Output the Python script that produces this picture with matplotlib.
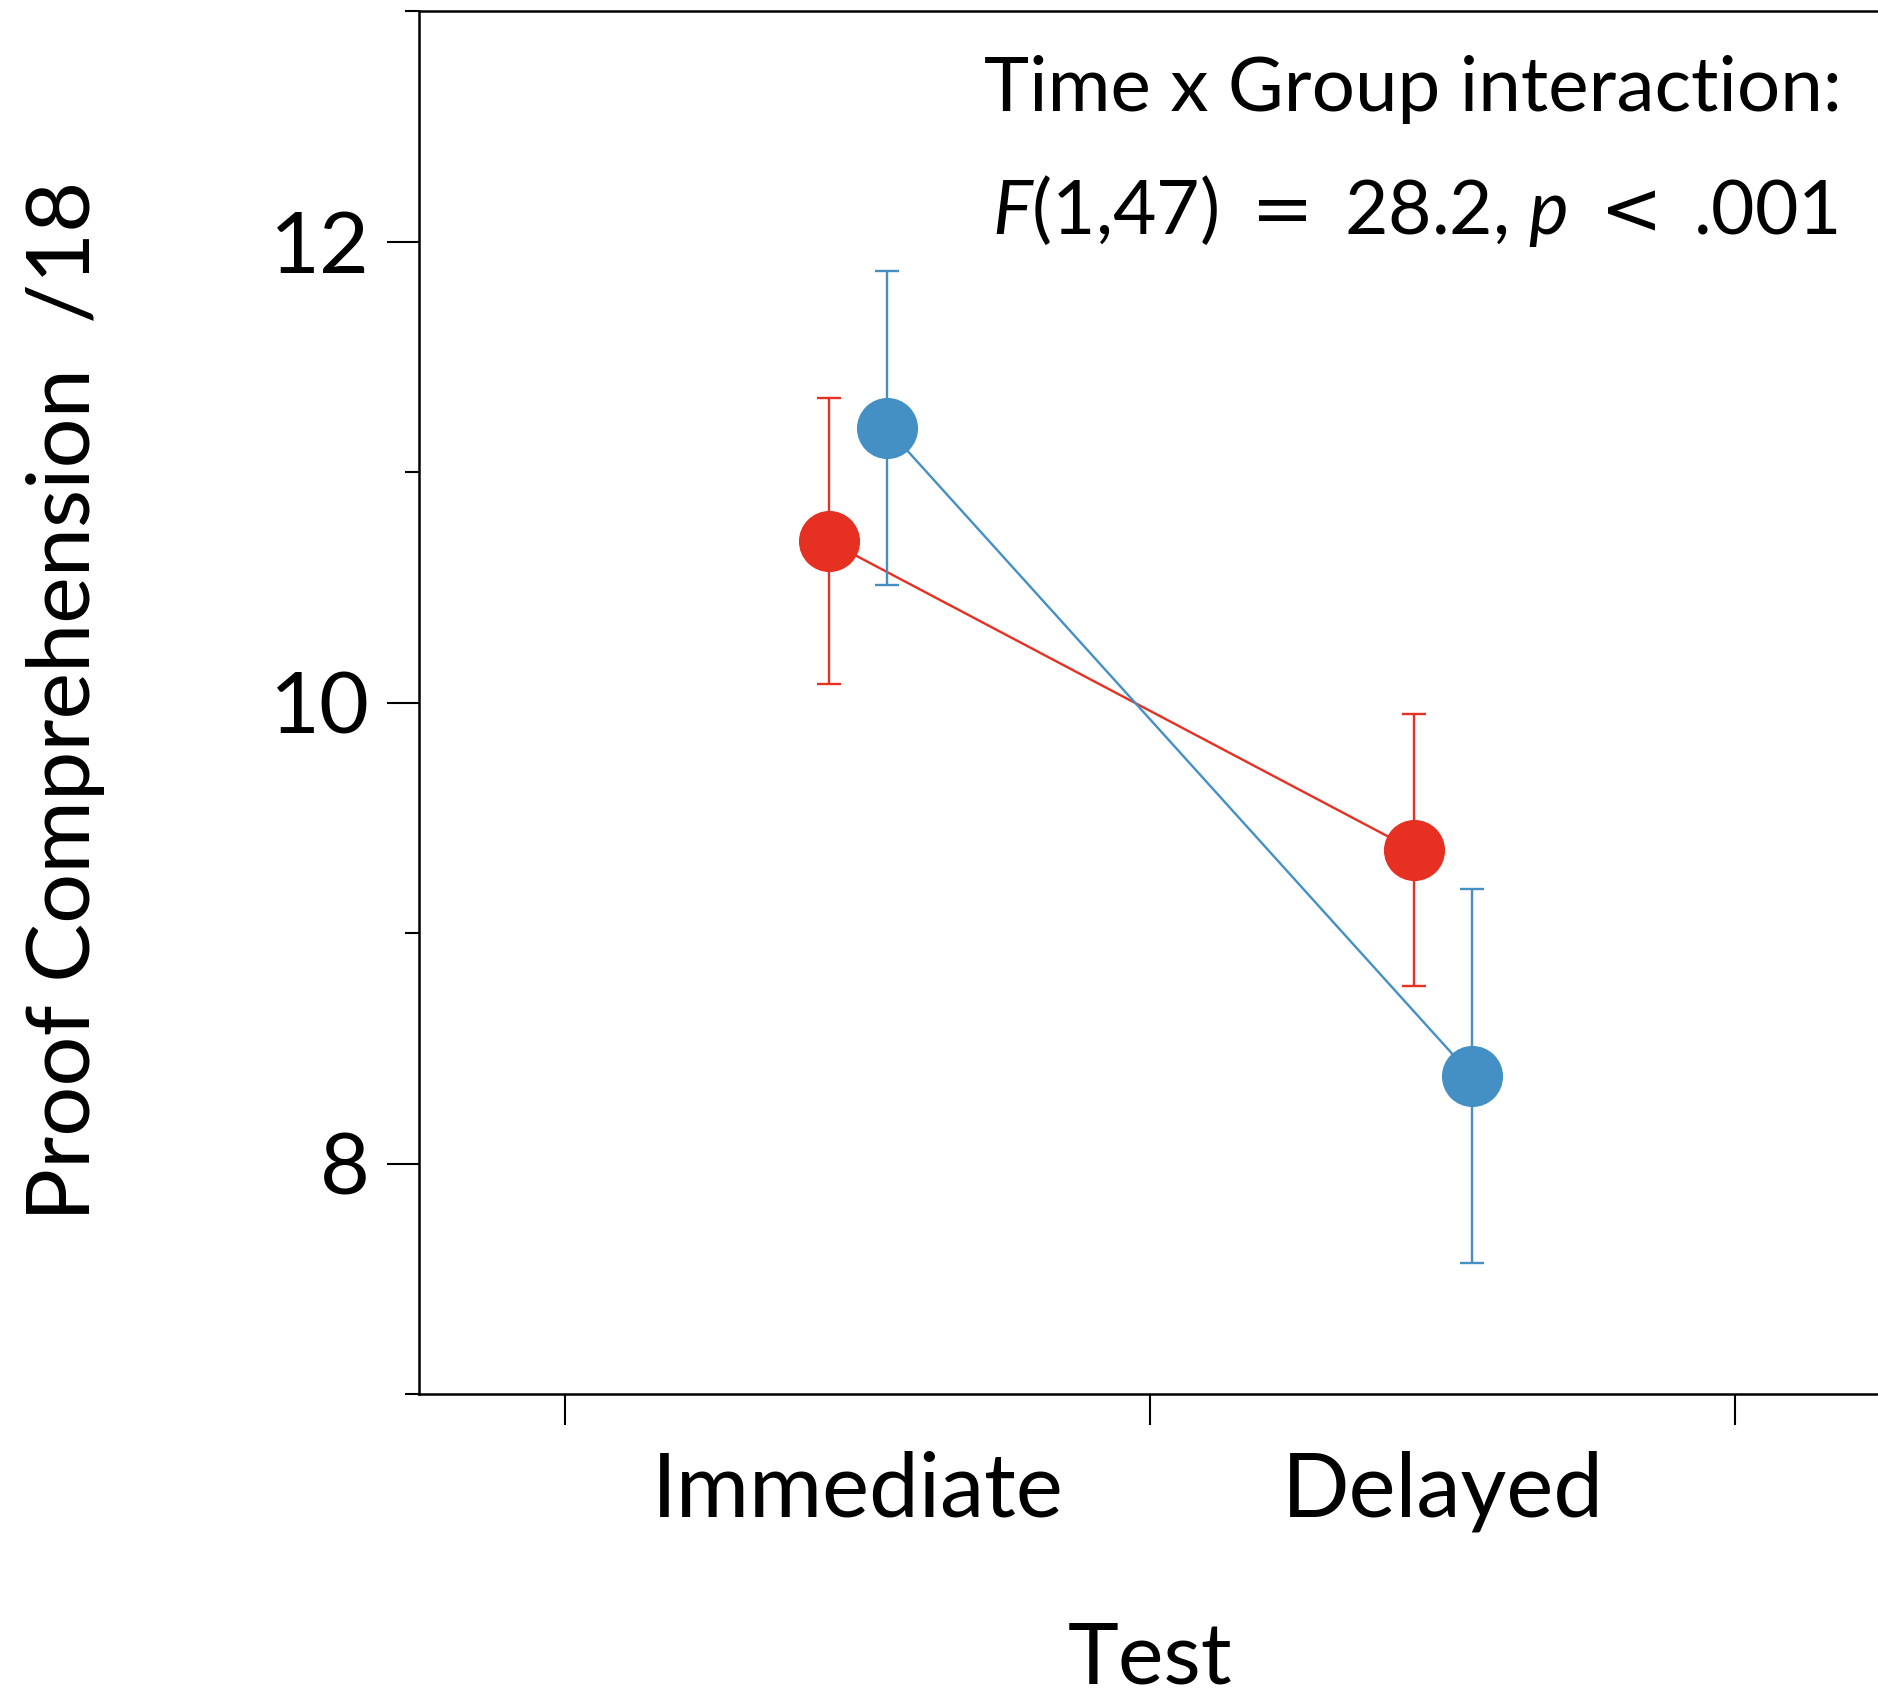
import numpy as np
import matplotlib
matplotlib.use("Agg")
import matplotlib.pyplot as plt
from matplotlib.ticker import FixedLocator, NullFormatter, FixedFormatter

# ---- data ----
tests = ["Immediate", "Delayed"]
red_means = [10.70, 9.36]
red_err = [0.62, 0.59]
blue_means = [11.19, 8.38]
blue_err = [0.68, 0.81]
y_major = [8, 10, 12]
y_minor = [7, 9, 11, 13]
annot_line1 = "Time x Group interaction:"
annot_line2 = r"$F$(1,47) $\mathsf{=}$ 28.2, $p$ $\mathsf{<}$ .001"
ylabel = "Proof Comprehension  /18"
xlabel = "Test"

RED = "#E63022"
BLUE = "#4490C4"
FONT = "Lato"

plt.rcParams["font.family"] = [FONT, "DejaVu Sans"]
plt.rcParams["mathtext.fontset"] = "custom"
plt.rcParams["mathtext.rm"] = FONT
plt.rcParams["mathtext.it"] = FONT + ":italic"
plt.rcParams["mathtext.sf"] = "DejaVu Sans"

W, H, DPI = 1878, 1700, 100
fig = plt.figure(figsize=(W / DPI, H / DPI), dpi=DPI)
ax = fig.add_axes([419 / W, 1 - 1394 / H, 1 - 419 / W + 0.002, (1394 - 11) / H])

pos = np.arange(1, len(tests) + 1)
dodge = 0.05
LW = 1.7

for xs, means, errs, col, z in [(pos - dodge, red_means, red_err, RED, 3),
                                (pos + dodge, blue_means, blue_err, BLUE, 5)]:
    ax.errorbar(xs, means, yerr=errs, fmt="none", ecolor=col,
                elinewidth=LW, capsize=8.5, capthick=LW, zorder=z)
    ax.plot(xs, means, color=col, lw=LW, marker="o", markersize=44,
            markeredgewidth=0, zorder=z + 0.5)

ax.set_xlim(0.25, 2.75)
ax.set_ylim(7, 13)

# y ticks
ax.yaxis.set_major_locator(FixedLocator(y_major))
ax.yaxis.set_minor_locator(FixedLocator(y_minor))
ax.yaxis.set_minor_formatter(NullFormatter())
ax.tick_params(axis="y", which="major", direction="out", length=23, width=1.5,
               pad=12.5, labelsize=62)
ax.tick_params(axis="y", which="minor", direction="out", length=10, width=1.5)

# x ticks: separators at half positions, labels at category centres
ax.xaxis.set_major_locator(FixedLocator([0.5, 1.5, 2.5]))
ax.xaxis.set_major_formatter(NullFormatter())
ax.xaxis.set_minor_locator(FixedLocator(list(pos)))
ax.xaxis.set_minor_formatter(FixedFormatter(tests))
ax.tick_params(axis="x", which="major", direction="out", length=22.5, width=1.5)
ax.tick_params(axis="x", which="minor", length=0, pad=41, labelsize=64)

for s in ["left", "bottom", "top"]:
    ax.spines[s].set_linewidth(1.8)
ax.spines["right"].set_visible(False)

fig.text(66 / W, 1 - 701 / H, ylabel, rotation=90, ha="center", va="center",
         fontsize=63.5)
fig.text(1150 / W, 1 - 1684 / H, xlabel, ha="center", va="baseline", fontsize=62)

fig.text(1842 / W, 1 - 111 / H, annot_line1, ha="right", va="baseline", fontsize=55)
fig.text(1838 / W, 1 - 234 / H, annot_line2, ha="right", va="baseline", fontsize=54)

fig.savefig("out.png", dpi=DPI, facecolor="white")
